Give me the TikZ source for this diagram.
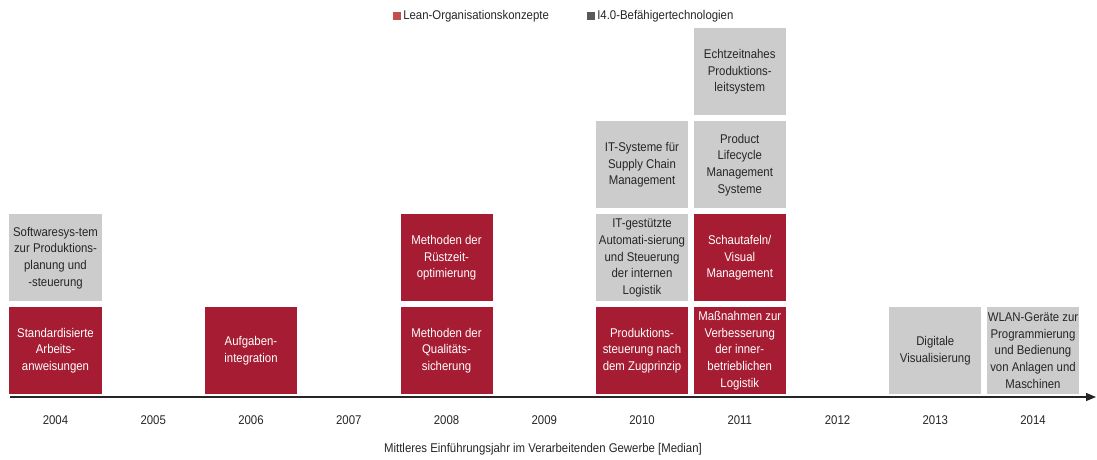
\documentclass[tikz,border=0pt]{standalone}
\usepackage{fontspec}
\setmainfont{Liberation Sans}[FakeStretch=0.9]
\usetikzlibrary{arrows.meta}
\definecolor{leanred}{RGB}{166,29,51}
\definecolor{techgray}{RGB}{204,204,204}
\definecolor{keyred}{RGB}{192,80,77}
\definecolor{keygray}{RGB}{89,89,89}

\begin{document}
\begin{tikzpicture}[
    every node/.style={font=\fontsize{9}{11.9}\selectfont, text=black!85},
    lean/.style={fill=leanred, text=white, minimum width=2.3cm, minimum height=2.175cm,
                 inner sep=0pt, align=center},
    tech/.style={lean, fill=techgray, text=black!85},
    keybox/.style={minimum size=0.2cm, inner sep=0pt}
  ]
  \useasboundingbox (0,0) rectangle (27.425,-11.5);

  % legend
  \node[keybox, fill=keyred] (keylean) at (9.925,-0.4) {};
  \node[anchor=west, inner sep=0pt] (keyleantxt) at (10.075,-0.4) {Lean-Organisationskonzepte};
  \node[keybox, fill=keygray] (keytech) at (14.775,-0.4) {};
  \node[anchor=west, inner sep=0pt] (keytechtxt) at (14.925,-0.4) {I4.0-Befähigertechnologien};

  % 2004
  \node[lean] (l04a) at (1.3875,-8.7625) {Standardisierte\\Arbeits-\\anweisungen};
  \node[tech] (t04a) at (1.3875,-6.45) {Softwaresys-tem\\zur Produktions-\\planung und\\-steuerung};
  % 2006
  \node[lean] (l06a) at (6.275,-8.7625) {Aufgaben-\\integration};
  % 2008
  \node[lean] (l08a) at (11.1625,-8.7625) {Methoden der\\Qualitäts-\\sicherung};
  \node[lean] (l08b) at (11.1625,-6.45) {Methoden der\\Rüstzeit-\\optimierung};
  % 2010
  \node[lean] (l10a) at (16.05,-8.7625) {Produktions-\\steuerung nach\\dem Zugprinzip};
  \node[tech] (t10a) at (16.05,-6.45) {IT-gestützte\\Automati-sierung\\und Steuerung\\der internen\\Logistik};
  \node[tech] (t10b) at (16.05,-4.125) {IT-Systeme für\\Supply Chain\\Management};
  % 2011
  \node[lean] (l11a) at (18.49375,-8.7625) {Maßnahmen zur\\Verbesserung\\der inner-\\betrieblichen\\Logistik};
  \node[lean] (l11b) at (18.49375,-6.45) {Schautafeln/\\Visual\\Management};
  \node[tech] (t11a) at (18.49375,-4.125) {Product\\Lifecycle\\Management\\Systeme};
  \node[tech] (t11b) at (18.49375,-1.8) {Echtzeitnahes\\Produktions-\\leitsystem};
  % 2013 and 2014
  \node[tech] (t13a) at (23.38125,-8.7625) {Digitale\\Visualisierung};
  \node[tech] (t14a) at (25.825,-8.7625) {WLAN-Geräte zur\\Programmierung\\und Bedienung\\von Anlagen und\\Maschinen};

  % time axis
  \coordinate (axstart) at (0.25,-9.925);
  \coordinate (axend) at (27.4,-9.925);
  \draw[line width=0.9pt, black!85, -{Triangle[length=0.25cm,width=0.2cm]}] (axstart) -- (axend);
  \foreach \yr [count=\i from 0] in {2004,...,2014}
    \node (y\yr) at ({1.3875+2.44375*\i},-10.5) {\yr};
  \node (axtitle) at (13.575,-11.225) {Mittleres Einführungsjahr im Verarbeitenden Gewerbe [Median]};
\end{tikzpicture}
\end{document}
